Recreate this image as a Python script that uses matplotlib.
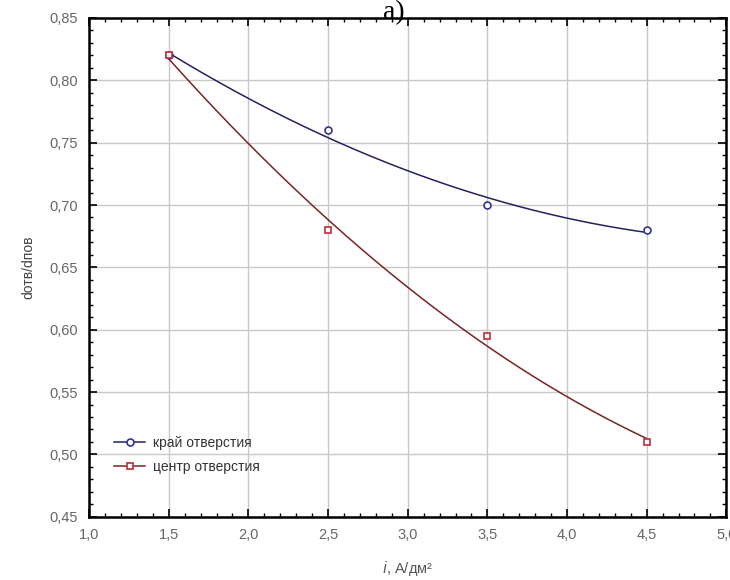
import numpy as np
import matplotlib.pyplot as plt
from matplotlib.ticker import MultipleLocator, FuncFormatter

plt.rcParams['font.family'] = ['Liberation Sans', 'DejaVu Sans']

current = [1.5, 2.5, 3.5, 4.5]
edge_vals = [0.82, 0.76, 0.70, 0.68]
center_vals = [0.82, 0.68, 0.595, 0.51]
labels = ['край отверстия', 'центр отверстия']

fig = plt.figure(figsize=(7.3, 5.8), dpi=100)
ax = fig.add_axes([0.122, 0.109, 0.873, 0.860])

xs = np.linspace(1.5, 4.5, 200)
series = [
    (edge_vals, '#23235e', '#2f3590', 'o', labels[0]),
    (center_vals, '#7a2424', '#c42a3a', 's', labels[1]),
]
for vals, lc, mc, mk, lab in series:
    coef = np.polyfit(current, vals, 2)
    ax.plot(xs, np.polyval(coef, xs), color=lc, lw=1.1, zorder=3)
    ax.plot(current, vals, linestyle='none', marker=mk, ms=5, mfc='white',
            mec=mc, mew=1.2, zorder=4)
    ax.plot([], [], color=lc, lw=1.1, marker=mk, ms=5, mfc='white',
            mec=mc, mew=1.2, label=lab)

ax.set_xlim(1.0, 5.0)
ax.set_ylim(0.45, 0.85)
ax.xaxis.set_major_locator(MultipleLocator(0.5))
ax.xaxis.set_minor_locator(MultipleLocator(0.1))
ax.yaxis.set_major_locator(MultipleLocator(0.05))
ax.yaxis.set_minor_locator(MultipleLocator(0.01))
ax.xaxis.set_major_formatter(FuncFormatter(lambda v, p: f'{v:.1f}'.replace('.', ',')))
ax.yaxis.set_major_formatter(FuncFormatter(lambda v, p: f'{v:.2f}'.replace('.', ',')))

ax.grid(True, which='major', color='#c8c8c8', lw=1)
ax.set_axisbelow(True)
ax.tick_params(which='both', direction='in', top=True, right=True,
               labelcolor='#666666', labelsize=10.5, color='black')
ax.tick_params(which='major', length=6, width=1.2, pad=8)
ax.tick_params(which='minor', length=3, width=1)
for s in ax.spines.values():
    s.set_linewidth(1.8)

ax.set_xlabel('$i$, А/дм²', color='#555555', fontsize=10.5, labelpad=12)
ax.set_ylabel('dотв/dпов', color='#444444', fontsize=10, labelpad=10)

ax.legend(loc='lower left', bbox_to_anchor=(0.02, 0.06), frameon=False,
          fontsize=10, labelcolor='#333333', handlelength=2.2,
          handletextpad=0.6, labelspacing=0.75)

fig.text(0.54, 1.0, 'a)', family='Liberation Serif', fontsize=20,
         ha='center', va='top')

fig.savefig('out.png', dpi=100)
